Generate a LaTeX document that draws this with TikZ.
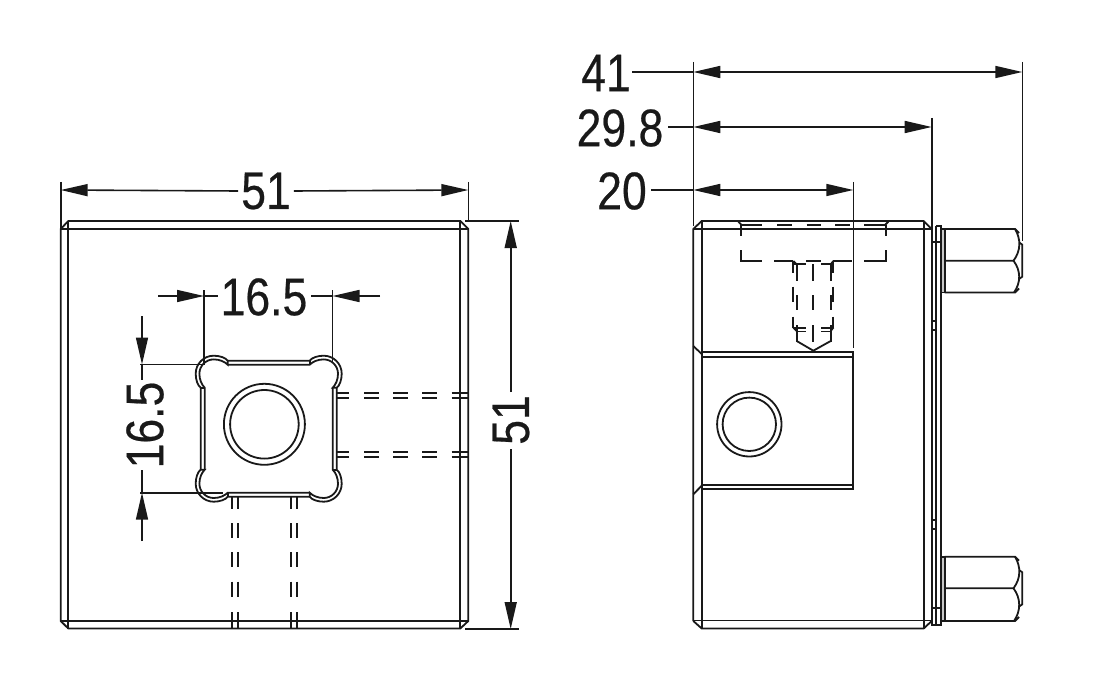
\documentclass[tikz,border=0pt]{standalone}
\usepackage{fontspec}
\setmainfont[FakeStretch=0.84,FakeBold=0.4]{Liberation Sans}
\usetikzlibrary{arrows.meta}
\tikzset{
  x=1pt,y=-1pt,
  part/.style={line width=1.8pt,draw=black!90,line join=miter},
  dimline/.style={line width=1.6pt,draw=black!90},
  dimtip/.style={-{Triangle[length=27pt,width=12pt]}},
  dim/.style={font=\fontsize{53}{53}\selectfont,inner sep=0pt,text=black!90},
  hid/.style={part,line cap=butt},
  nutwash/.style={part,fill=black!22},
  ringline/.style={draw=black!90,line width=1.8pt,circle,inner sep=0pt}
}
\begin{document}
\begin{tikzpicture}
\useasboundingbox (0,0) rectangle (1098,698);
% ---------- left view ----------
\draw[part] (60.7,229) -- (68.3,221) -- (460.3,221) -- (468.3,229) -- (468.3,621) -- (460.3,628.5) -- (68.3,628.5) -- (60.7,621) -- cycle;
\draw[part] (60.7,229) -- (468.3,229);
\draw[part] (60.7,621) -- (468.3,621);
\draw[part] (68.3,221) -- (68.3,628.5);
\draw[part] (460.3,221) -- (460.3,628.5);
% hidden holes
\foreach \y in {392.7,398.3,451.7,457.3}{
  \foreach \a/\b in {336/349.3,364/378.7,393.3/407.7,422.3/436.7,451.7/468.3}{
    \draw[hid] (\a,\y) -- (\b,\y);
  }
}
\foreach \x in {232.3,237.9,290.9,296.7}{
  \foreach \a/\b in {496.7/509,523/538,552/567,581.7/597,612/628.5}{
    \draw[hid] (\x,\a) -- (\x,\b);
  }
}
% square socket
\begin{scope}[shift={(268.7,428.7)}]
\foreach \r in {0,90,180,270}{
  \begin{scope}[rotate=\r]
    \draw[part] (-41,-68) -- (41,-68) .. controls (43,-71) and (49,-73) .. (55,-73)
      arc (-90:0:18) .. controls (73,-49) and (71,-43) .. (68,-41) -- (64,-41)
      .. controls (67,-44) and (69.3,-49) .. (69.3,-55) arc (0:-90:14.3)
      .. controls (49,-69.3) and (44,-67) .. (41,-64) -- (-41,-64);
    \draw[part] (41,-68) -- (41,-64);
  \end{scope}
}
\end{scope}
\node[ringline,minimum size=81pt] (holeA) at (264.4,424.3) {};
\node[ringline,minimum size=68.6pt] (boreA) at (264.4,424.3) {};
% left view dimensions
\draw[dimline] (60.7,182) -- (60.7,229);
\draw[dimline] (468.3,182) -- (468.3,221);
\node[dim] (topw) at (266,191) {51};
\draw[dimline,dimtip] (topw.west) ++(-3,0) coordinate (a1) -- (60.7,190);
\draw[dimline,dimtip] (topw.east) ++(3,0) coordinate (a2) -- (468.3,190);
\draw[dimline] (465,221) -- (519,221);
\draw[dimline] (465,629) -- (519,629);
\node[dim,rotate=90] (rh) at (511,420) {51};
\draw[dimline,dimtip] (510.7,392) -- (510.7,221);
\draw[dimline,dimtip] (510.7,449) -- (510.7,629);
\draw[dimline] (204,290) -- (204,364.5);
\draw[dimline] (332.5,290) -- (332.5,362);
\draw[dimline] (140,364.5) -- (204,364.5);
\draw[dimline] (140,492.7) -- (223,492.7);
\node[dim] (sw) at (264,297) {16.5};
\draw[dimline,dimtip] (158,296) -- (204,296);
\draw[dimline,dimtip] (380,296) -- (332.5,296);
\draw[dimline] (204,296) -- (218,296);
\draw[dimline] (311,296) -- (332.5,296);
\node[dim,rotate=90] (sh) at (145,425) {16.5};
\draw[dimline,dimtip] (142,316) -- (142,364.5);
\draw[dimline,dimtip] (142,541) -- (142,492.7);
\draw[dimline] (142,364.5) -- (142,380);
\draw[dimline] (142,470) -- (142,492.7);
% ---------- right view ----------
\draw[part] (693.3,621) -- (693.3,229) -- (701.7,221) -- (923.7,221) -- (931.7,229);
\draw[part] (693.3,229) -- (931.7,229);
\draw[part] (693.3,621) -- (701.7,628.5) -- (923.7,628.5) -- (931.7,621);
\draw[part] (693.3,620.5) -- (931.7,620.5);
\draw[part] (701.7,221) -- (701.7,628.5);
\draw[part] (923.7,221) -- (923.7,628.5);
% plate
\draw[part,line width=2.2pt] (931.7,229) -- (931.7,621);
\draw[part] (936,226) -- (936,625);
\draw[part] (936,226) -- (941.3,226) -- (941.3,625) -- (931.7,625) -- (931.7,621);
\draw[part] (931.7,241.7) -- (941.3,241.7);
\draw[part] (931.7,608.3) -- (941.3,608.3);
\draw[part] (931.7,320.7) -- (936,320.7);
\draw[part,line width=2.4pt] (931.7,330) -- (936,330);
\draw[part,line width=2.4pt] (931.7,520) -- (936,520);
\draw[part] (931.7,529) -- (936,529);
% middle slot
\draw[part] (693.3,346) -- (701.7,354);
\draw[part] (693.3,494.3) -- (701.7,485.7);
\draw[part] (701.7,352.3) -- (853.3,352.3) -- (853.3,489) -- (701.7,489);
\draw[part] (701.7,356.7) -- (853.3,356.7);
\draw[part] (701.7,485) -- (853.3,485);
\node[ringline,minimum size=64.4pt] (holeB) at (749.3,424.3) {};
\node[ringline,minimum size=53.4pt] (boreB) at (749.3,424.3) {};
% nuts
\foreach \t/\m/\b in {229/260.7/292.5,556.7/588.3/621}{
  \draw[nutwash] (941.3,\t) rectangle (944.7,\b);
  \draw[part] (944.7,\t) -- (1015,\t) -- (1019,\t+4) (944.7,\m) -- (1013.5,\m) (944.7,\b) -- (1015,\b) -- (1019,\b-4);
  \draw[part] (1015,\t) .. controls (1021,\t+10) and (1021,\m-10) .. (1013.5,\m) .. controls (1021,\m+10) and (1021,\b-10) .. (1014,\b);
  \draw[part] (1019.5,\m-18) -- (1022.3,\m-16) -- (1022.3,\m+16) -- (1019.5,\m+18);
}
% hidden screw
\draw[part] (738.3,221.7) -- (741.7,225);
\draw[part] (888.3,221.7) -- (885,225);
\foreach \a/\b in {741.7/762.3,777.3/791.7,806.7/821,835/850,864.3/885}{
  \draw[hid] (\a,225) -- (\b,225);
}
\draw[hid] (741,225) -- (741,236);
\draw[hid] (741,250) -- (741,261) -- (762.3,261);
\draw[hid] (886,225) -- (886,236);
\draw[hid] (886,250) -- (886,261) -- (864.3,261);
\foreach \a/\b in {774.3/793.3,806/821,833.3/851.7}{
  \draw[hid] (\a,261) -- (\b,261);
}
\foreach \x in {793.3,833.3}{
  \foreach \a/\b in {261/272.7,286.7/301.7,316.7/328.3}{
    \draw[hid] (\x,\a) -- (\x,\b);
  }
}
\foreach \x in {796.7,813.3,830.7}{
  \foreach \a/\b in {264.3/281,295/310,325/341.7}{
    \draw[hid] (\x,\a) -- (\x,\b);
  }
}
\draw[hid] (793.3,261) -- (796.7,264.3) (833.3,261) -- (830.7,264.3);
\draw[hid] (793.3,264.3) -- (805.7,264.3) (821,264.3) -- (833.3,264.3);
\draw[hid] (793.3,327.7) -- (796.7,331) (833.3,327.7) -- (830.7,331);
\draw[hid] (793.3,328.3) -- (805.7,328.3) (821,328.3) -- (833.3,328.3);
\draw[hid] (796.7,331.5) -- (805.7,331.5) (821,331.5) -- (830.7,331.5);
\draw[hid] (796.7,341) -- (813.3,350.7) -- (830.7,341);
% right view dimensions
\draw[dimline] (693.3,62) -- (693.3,226);
\draw[dimline] (853.3,182) -- (853.3,348);
\draw[dimline] (931.7,118) -- (931.7,229);
\draw[dimline] (1022.3,62) -- (1022.3,241);
\node[dim] (d41) at (606,73) {41};
\node[dim] (d30) at (620,128) {29.8};
\node[dim] (d20) at (622,191) {20};
\draw[dimline] (632,72) -- (693.3,72);
\draw[dimline] (668,127) -- (693.3,127);
\draw[dimline] (651,190) -- (693.3,190);
\coordinate (m41) at (850,72);
\coordinate (m30) at (810,127);
\coordinate (m20) at (770,190);
\foreach \m/\y/\e in {m41/72/1022.3,m30/127/931.7,m20/190/853.3}{
  \draw[dimline,dimtip] (\m) -- (693.3,\y);
  \draw[dimline,dimtip] (\m) -- (\e,\y);
}
\end{tikzpicture}
\end{document}
